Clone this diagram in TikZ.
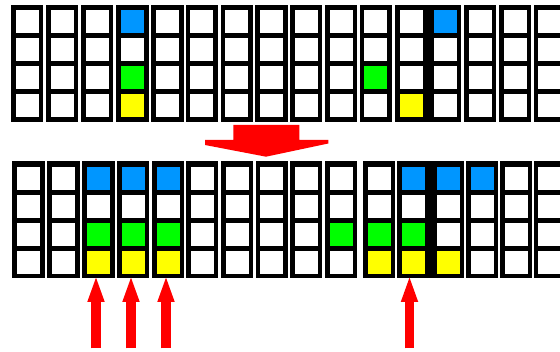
\documentclass[tikz,border=0pt]{standalone}
\usetikzlibrary{arrows.meta}
\definecolor{cblue}{RGB}{0,150,255}
\definecolor{cgreen}{RGB}{0,255,0}
\definecolor{cyellow}{RGB}{255,255,0}
\definecolor{cred}{RGB}{255,0,0}
\newcommand\colwd{32.3}
\newcommand\mcol[7]{%
  \fill[black] (#2,#3) rectangle ++(\colwd,117);
  \node[cell,fill=#4] (#1-1) at (#2+4.65,#3+5) {};
  \node[cell,fill=#5] (#1-2) at (#2+4.65,#3+33) {};
  \node[cell,fill=#6] (#1-3) at (#2+4.65,#3+61) {};
  \node[cell,fill=#7] (#1-4) at (#2+4.65,#3+89) {};
}
\begin{document}
\begin{tikzpicture}[x=1pt,y=-1pt,
  cell/.style={inner sep=0pt, minimum width=23pt, minimum height=23pt, draw=none, anchor=north west},
  gapfill/.style={fill=black},
  uparrow/.style={draw=cred, line width=9.3pt, -{Triangle[width=15pt,length=27pt]}},
  bigarrow/.style={fill=cred}]
\useasboundingbox (0,0) rectangle (560,352);
\clip (0,0) rectangle (560,352);
\fill[white] (0,0) rectangle (560,352);
% ---- top row ----
\mcol{t0}{10.7}{5}{white}{white}{white}{white}
\mcol{t1}{45.7}{5}{white}{white}{white}{white}
\mcol{t2}{80.7}{5}{white}{white}{white}{white}
\mcol{t3}{116.2}{5}{cblue}{white}{cgreen}{cyellow}
\mcol{t4}{151.2}{5}{white}{white}{white}{white}
\mcol{t5}{185.5}{5}{white}{white}{white}{white}
\mcol{t6}{220.5}{5}{white}{white}{white}{white}
\mcol{t7}{255.2}{5}{white}{white}{white}{white}
\mcol{t8}{290}{5}{white}{white}{white}{white}
\mcol{t9}{325}{5}{white}{white}{white}{white}
\mcol{t10}{359.5}{5}{white}{white}{cgreen}{white}
\mcol{t11}{395.2}{5}{white}{white}{white}{cyellow}
\mcol{t12}{428.7}{5}{cblue}{white}{white}{white}
\fill[gapfill] (427,5) rectangle (430,122);
\mcol{t13}{464}{5}{white}{white}{white}{white}
\mcol{t14}{498.8}{5}{white}{white}{white}{white}
\mcol{t15}{533.5}{5}{white}{white}{white}{white}
% ---- big arrow ----
\fill[bigarrow] (233.3,125) -- (299.3,125) -- (299.3,140) -- (328.3,140) -- (328.3,143.5)
  -- (266,156.7) -- (205,145) -- (205,140) -- (233.3,140) -- cycle;
% ---- bottom row ----
\mcol{b0}{12.3}{161.5}{white}{white}{white}{white}
\mcol{b1}{47.3}{161.5}{white}{white}{white}{white}
\mcol{b2}{82.3}{161.5}{cblue}{white}{cgreen}{cyellow}
\mcol{b3}{116.7}{161.5}{cblue}{white}{cgreen}{cyellow}
\mcol{b4}{151.7}{161.5}{cblue}{white}{cgreen}{cyellow}
\mcol{b5}{186}{161.5}{white}{white}{white}{white}
\mcol{b6}{221}{161.5}{white}{white}{white}{white}
\mcol{b7}{255.5}{161.5}{white}{white}{white}{white}
\mcol{b8}{290}{161.5}{white}{white}{white}{white}
\mcol{b9}{325}{161.5}{white}{white}{cgreen}{white}
\mcol{b10}{362.7}{161.5}{white}{white}{cgreen}{cyellow}
\mcol{b11}{397}{161.5}{cblue}{white}{cgreen}{cyellow}
\mcol{b12}{431.7}{161.5}{cblue}{white}{white}{cyellow}
\fill[gapfill] (429,161.5) rectangle (432.5,278.5);
\mcol{b13}{466}{161.5}{cblue}{white}{white}{white}
\mcol{b14}{499.8}{161.5}{white}{white}{white}{white}
\mcol{b15}{533.6}{161.5}{white}{white}{white}{white}
% ---- small arrows ----
\coordinate (s1) at (96,348.5);   \coordinate (e1) at (96,275);
\coordinate (s2) at (131,348.5);  \coordinate (e2) at (131,275);
\coordinate (s3) at (166,348.5);  \coordinate (e3) at (166,275);
\coordinate (s4) at (409.5,348.5);\coordinate (e4) at (409.5,275);
\draw[uparrow] (s1) -- (e1);
\draw[uparrow] (s2) -- (e2);
\draw[uparrow] (s3) -- (e3);
\draw[uparrow] (s4) -- (e4);
\end{tikzpicture}
\end{document}
